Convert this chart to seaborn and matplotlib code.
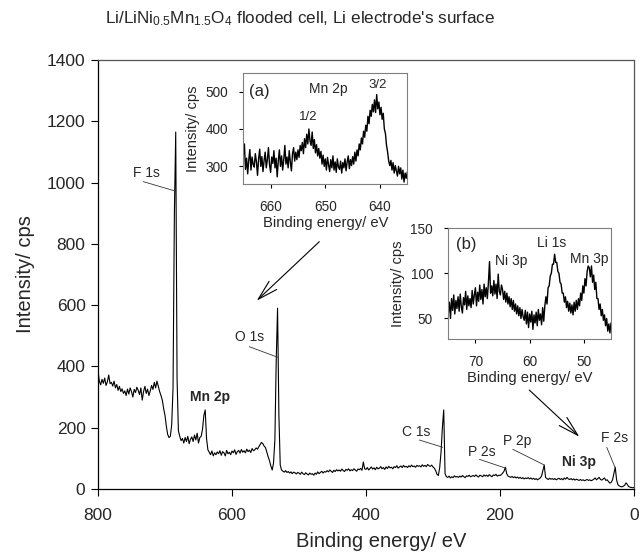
import numpy as np
import pandas as pd
import matplotlib
matplotlib.use("Agg")
import matplotlib.pyplot as plt
import seaborn as sns

# =============================================================================
# DATA
# =============================================================================
# survey spectrum, 2 eV steps from 800 eV down to 0 eV
survey_step = 2
survey_cps = [
    385, 352, 340, 358, 345, 362, 338, 350, 372, 344,   # 800-782
    348, 336, 352, 330, 341, 322, 335, 318, 327, 312,   # 780-762
    320, 305, 326, 310, 330, 318, 300, 325, 315, 332,   # 760-742
    322, 308, 330, 290, 318, 335, 312, 326, 305, 320,   # 740-722
    338, 325, 348, 330, 352, 335, 318, 305, 290, 262,   # 720-702
    240, 205, 178, 168, 172, 210, 330, 900, 1165, 360,  # 700-682
    190, 172, 158, 165, 150, 168, 155, 172, 148, 162,   # 680-662
    170, 155, 176, 160, 182, 150, 168, 172, 195, 240,   # 660-642
    258, 165, 128, 120, 112, 124, 108, 118, 112, 121,   # 640-622
    115, 125, 110, 122, 118, 108, 126, 115, 120, 112,   # 620-602
    124, 118, 128, 113, 122, 126, 117, 129, 120, 125,   # 600-582
    118, 130, 122, 127, 119, 132, 125, 128, 134, 130,   # 580-562
    138, 145, 152, 148, 140, 135, 120, 105, 92, 75,     # 560-542
    62, 85, 160, 420, 590, 240, 78, 62, 58, 55,         # 540-522
    60, 54, 57, 52, 56, 50, 55, 53, 49, 54,             # 520-502
    52, 48, 55, 50, 47, 53, 49, 46, 52, 48,             # 500-482
    50, 45, 52, 48, 56, 50, 54, 58, 52, 57,             # 480-462
    55, 60, 56, 62, 58, 54, 61, 57, 63, 59,             # 460-442
    62, 58, 65, 60, 57, 64, 61, 66, 59, 63,             # 440-422
    60, 66, 62, 58, 65, 63, 67, 61, 88, 66,             # 420-402
    64, 70, 62, 67, 72, 65, 69, 63, 71, 66,             # 400-382
    68, 73, 66, 70, 64, 72, 67, 74, 69, 71,             # 380-362
    66, 73, 70, 76, 68, 72, 75, 70, 77, 72,             # 360-342
    74, 70, 76, 72, 78, 73, 75, 71, 77, 74,             # 340-322
    76, 72, 79, 74, 77, 73, 80, 76, 74, 78,             # 320-302
    72, 68, 60, 48, 44, 70, 120, 200, 258, 50,          # 300-282
    40, 38, 42, 36, 40, 37, 43, 39, 41, 38,             # 280-262
    42, 39, 44, 40, 37, 43, 41, 45, 40, 42,             # 260-242
    44, 41, 46, 42, 39, 45, 43, 40, 46, 42,             # 240-222
    45, 41, 47, 43, 40, 46, 44, 48, 42, 45,             # 220-202
    44, 47, 52, 58, 71, 50, 42, 40, 38, 41,             # 200-182
    37, 40, 36, 39, 35, 38, 34, 37, 33, 36,             # 180-162
    34, 37, 33, 36, 32, 35, 31, 34, 30, 33,             # 160-142
    36, 42, 60, 78, 38, 34, 31, 35, 32, 34,             # 140-122
    31, 34, 30, 33, 35, 31, 34, 30, 36, 32,             # 120-102
    38, 33, 31, 34, 30, 33, 29, 32, 30, 28,             # 100-82
    31, 28, 30, 27, 29, 31, 28, 30, 27, 29,             # 80-62
    32, 36, 30, 34, 38, 31, 29, 33, 36, 28,             # 60-42
    30, 24, 19, 22, 30, 50, 71, 30, 14, 10,             # 40-22
    8, 7, 9, 12, 20, 15, 8, 6, 5, 4,                    # 20-2
    5,                                                  # 0
]

# inset (a): Mn 2p window, 0.2 eV steps from 665 eV to 635 eV
mn2p_cps = [
    330, 360, 292, 322, 280, 318, 345, 290, 325, 305,
    298, 334, 312, 276, 320, 346, 300, 326, 286, 315,
    338, 296, 318, 350, 304, 284, 325, 308, 342, 296,
    322, 272, 315, 344, 300, 328, 290, 318, 356, 306,
    325, 296, 342, 312, 288, 334, 350, 314, 338, 318,
    344, 324, 356, 342, 364, 334, 374, 350, 386, 360,
    400, 368, 356, 392, 348, 372, 336, 358, 328, 348,
    322, 340, 306, 330, 300, 320, 290, 324, 304, 286,
    318, 296, 328, 290, 312, 284, 320, 298, 292, 314,
    282, 310, 296, 320, 288, 312, 328, 294, 318, 302,
    326, 306, 338, 314, 344, 328, 360, 344, 376, 360,
    394, 378, 410, 394, 434, 414, 450, 434, 466, 446,
    478, 444, 492, 454, 472, 438, 458, 426, 442, 400,
    388, 356, 338, 314, 302, 316, 290, 310, 282, 302,
    288, 274, 300, 280, 296, 266, 290, 258, 282, 268,
    285,
]

# inset (b): Ni 3p / Li 1s / Mn 3p window, 0.2 eV steps from 75 eV to 45 eV
low_be_cps = [
    56, 68, 50, 72, 59, 76, 55, 70, 61, 74,
    58, 77, 63, 56, 73, 65, 80, 60, 75, 64,
    72, 62, 81, 66, 76, 84, 64, 79, 69, 87,
    71, 82, 66, 88, 74, 84, 72, 90, 113, 78,
    86, 75, 92, 77, 88, 72, 99, 80, 76, 87,
    82, 71, 80, 68, 78, 66, 74, 63, 72, 60,
    70, 58, 66, 55, 64, 53, 62, 50, 60, 52,
    48, 59, 44, 57, 40, 55, 46, 58, 38, 54,
    45, 57, 42, 60, 48, 55, 43, 62, 47, 64,
    74, 66, 84, 86, 97, 100, 110, 110, 121, 112,
    112, 102, 100, 90, 88, 78, 78, 68, 74, 62,
    69, 58, 67, 56, 65, 54, 68, 58, 70, 60,
    72, 64, 78, 70, 86, 78, 94, 86, 102, 108,
    106, 96, 108, 90, 98, 82, 90, 72, 72, 60,
    66, 53, 60, 48, 54, 42, 50, 36, 44, 34,
    45,
]

peak_labels = ["F 1s", "O 1s", "Mn 2p", "C 1s", "P 2s", "P 2p", "Ni 3p", "F 2s"]
peak_be = [685, 532, 641, 284, 191, 134, 67, 28]

survey = pd.DataFrame({"be": np.arange(800, -1, -survey_step), "cps": survey_cps})
mn2p = pd.DataFrame({"be": np.linspace(665, 635, len(mn2p_cps)), "cps": mn2p_cps})
low_be = pd.DataFrame({"be": np.linspace(75, 45, len(low_be_cps)), "cps": low_be_cps})

# =============================================================================
# STYLE
# =============================================================================
sns.set_style("ticks")
plt.rcParams["font.family"] = ["Liberation Sans", "DejaVu Sans"]
plt.rcParams["mathtext.fontset"] = "custom"
plt.rcParams["mathtext.rm"] = "Liberation Sans"
plt.rcParams["mathtext.it"] = "Liberation Sans:italic"

fig = plt.figure(figsize=(6.4, 5.53), dpi=100)

# =============================================================================
# MAIN SURVEY
# =============================================================================
ax = fig.add_axes([98 / 640, 64 / 553, 536 / 640, 429 / 553])
sns.lineplot(data=survey, x="be", y="cps", ax=ax, color="black", lw=0.8,
             estimator=None, errorbar=None)
ax.set_xlim(800, 0)
ax.set_ylim(0, 1400)
ax.set_xticks([800, 600, 400, 200, 0])
ax.set_yticks(range(0, 1401, 200))
ax.tick_params(axis="both", direction="out", length=5, width=0.8, labelsize=12.5, color="black")
ax.tick_params(axis="x", pad=9)
ax.tick_params(axis="y", pad=4)
for s in ax.spines.values():
    s.set_linewidth(0.9)
    s.set_color("black")
ax.spines["top"].set_color("#555555")
ax.spines["right"].set_color("#555555")

ax.set_xlabel("Binding energy/ eV", fontsize=14.5)
ax.set_ylabel("Intensity/ cps", fontsize=14.5)
ax.xaxis.label.set_va("center")
ax.yaxis.label.set_va("center")
ax.xaxis.set_label_coords(0.528, -0.123)
ax.yaxis.set_label_coords(-0.136, 0.5)

fig.text(0.469, 0.967, r"Li/LiNi$_{0.5}$Mn$_{1.5}$O$_4$ flooded cell, Li electrode's surface",
         ha="center", va="center", fontsize=12.3)

# peak labels with leader lines
label_pos = {
    "F 1s": (727.6, 1032, 732.4, 1003, 685.1, 972.6),
    "O 1s": (573.1, 495, 574.2, 464.4, 531.8, 429.8),
    "C 1s": (325.7, 187, 320.4, 159.9, 285.5, 136.1),
    "P 2s": (226.9, 121.7, 230.9, 96.9, 191.0, 67.6),
    "P 2p": (174.6, 156.7, 181.0, 129.6, 133.9, 78.3),
    "F 2s": (28.4, 165.5, 40.7, 136.1, 28.4, 70.8),
}
for lab in peak_labels:
    if lab in label_pos:
        tx, ty, x1, y1, x2, y2 = label_pos[lab]
        ax.text(tx, ty, lab, ha="center", va="center", fontsize=10)
        ax.annotate("", xy=(x2, y2), xytext=(x1, y1),
                    arrowprops=dict(arrowstyle="-", lw=0.6, color="#333333",
                                    shrinkA=0, shrinkB=0))
ax.text(632.8, 301, "Mn 2p", ha="center", va="center", fontsize=10, fontweight="bold")
ax.text(82.1, 89, "Ni 3p", ha="center", va="center", fontsize=10, fontweight="bold")

# arrows pointing from insets to the survey
for start, end in [((469.7, 807), (563.1, 614.6)), ((156.3, 323), (81.6, 170.7))]:
    ax.annotate("", xy=end, xytext=start,
                arrowprops=dict(arrowstyle="->,head_length=1.45,head_width=0.4",
                                mutation_scale=10, lw=0.8, color="black",
                                shrinkA=0, shrinkB=0))


# =============================================================================
# INSETS
# =============================================================================
def style_inset(axi):
    for s in axi.spines.values():
        s.set_linewidth(0.8)
        s.set_color("#7f7f7f")
    axi.tick_params(axis="both", direction="out", length=3, width=0.8,
                    labelsize=9.8, pad=8, color="black")
    axi.set_xlabel("Binding energy/ eV", fontsize=10.6, labelpad=2)
    axi.set_ylabel("Intensity/ cps", fontsize=10.6, labelpad=4)


axa = fig.add_axes([243.3 / 640, (553 - 184.3) / 553, 164 / 640, 111 / 553])
sns.lineplot(data=mn2p, x="be", y="cps", ax=axa, color="black", lw=1.0,
             estimator=None, errorbar=None)
axa.set_xlim(665, 635)
axa.set_ylim(252, 549)
axa.set_xticks([660, 650, 640])
axa.set_yticks([300, 400, 500])
style_inset(axa)
axa.text(662.0, 500, "(a)", ha="center", va="center", fontsize=12)
axa.text(649.4, 506, "Mn 2p", ha="center", va="center", fontsize=10)
axa.text(640.4, 518, "3/2", ha="center", va="center", fontsize=9.5)
axa.text(653.1, 432, "1/2", ha="center", va="center", fontsize=9.5)

axb = fig.add_axes([448.3 / 640, (553 - 339.3) / 553, 162.7 / 640, 111.3 / 553])
sns.lineplot(data=low_be, x="be", y="cps", ax=axb, color="black", lw=1.0,
             estimator=None, errorbar=None)
axb.set_xlim(75, 45)
axb.set_ylim(27, 150)
axb.set_xticks([70, 60, 50])
axb.set_yticks([50, 100, 150])
style_inset(axb)
axb.text(71.7, 132, "(b)", ha="center", va="center", fontsize=12)
axb.text(63.4, 114, "Ni 3p", ha="center", va="center", fontsize=10)
axb.text(56.0, 133, "Li 1s", ha="center", va="center", fontsize=10)
axb.text(49.1, 115.8, "Mn 3p", ha="center", va="center", fontsize=10)

fig.savefig("out.png", dpi=100)
